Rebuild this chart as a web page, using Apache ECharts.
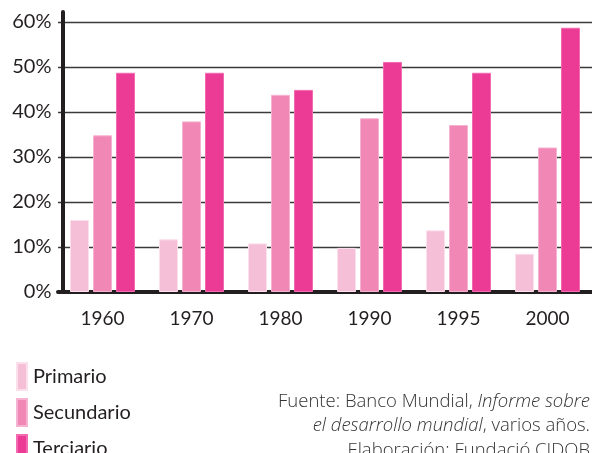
<!DOCTYPE html>
<html><head><meta charset="utf-8">
<script src="https://cdn.jsdelivr.net/npm/echarts@6/dist/echarts.min.js"></script>
<style>html,body{margin:0;padding:0;background:#fff}#c{width:592px;height:453px}</style>
</head><body><div id="c"></div>
<script>
const categories = ['1960', '1970', '1980', '1990', '1995', '2000'];
const primario   = [16, 11.7, 10.8, 9.8, 13.7, 8.5];
const secundario = [34.8, 37.9, 43.8, 38.6, 37.1, 32.1];
const terciario  = [48.7, 48.7, 44.9, 51.1, 48.7, 58.7];
const seriesNames = ['Primario', 'Secundario', 'Terciario'];
const yTicks = [0, 10, 20, 30, 40, 50, 60];

const colors = ['#f6bfd8', '#f087b5', '#ec3b94'];
const borders = ['#fbe0ec', '#f6b3d1', '#f26aaf'];
const font = 'Lato, "Open Sans", sans-serif';
const srcFont = '"Open Sans", Lato, sans-serif';

const chart = echarts.init(document.getElementById('c'), null, {renderer: 'canvas'});
const mk = (name, data, i) => ({
  name, type: 'bar', data, barWidth: 19, barGap: '21%',
  itemStyle: {color: colors[i], borderColor: borders[i], borderWidth: 1},
  emphasis: {disabled: true}, z: 2
});
chart.setOption({
  animation: false,
  grid: {left: 58, right: -10.2, top: 12, bottom: 161, containLabel: false},
  xAxis: {
    type: 'category', data: categories, boundaryGap: true, offset: 2,
    axisLine: {lineStyle: {color: '#231f20', width: 4}},
    axisTick: {show: false},
    axisLabel: {color: '#231f20', fontFamily: font, fontSize: 19, margin: 15}
  },
  yAxis: {
    type: 'value', min: 0, max: 62.2, interval: 10, offset: -4.5,
    axisLine: {show: true, lineStyle: {color: '#231f20', width: 4}},
    axisTick: {show: false},
    axisLabel: {
      color: '#231f20', fontFamily: font, fontSize: 20, margin: 11,
      formatter: v => (yTicks.indexOf(v) >= 0 ? v + '%' : '')
    },
    splitLine: {show: true, lineStyle: {color: ['#3a3a3a','#3a3a3a','#3a3a3a','#3a3a3a','#3a3a3a','#3a3a3a','#3a3a3a','rgba(0,0,0,0)'], width: 1.3}}
  },
  legend: {
    orient: 'vertical', left: 11, top: 357, height: 200, itemWidth: 10, itemHeight: 27, itemGap: 7,
    icon: 'rect', data: seriesNames,
    textStyle: {color: '#231f20', fontFamily: font, fontSize: 20, padding: [0, 0, 0, 1]},
    selectedMode: false
  },
  graphic: [{
    type: 'text', x: 590, y: 389,
    style: {
      text: 'Fuente: Banco Mundial, {i|Informe sobre}\n{i|el desarrollo mundial}, varios años.\nElaboración: Fundació CIDOB',
      align: 'right', verticalAlign: 'top', fill: '#333',
      font: '300 18.5px ' + srcFont, lineHeight: 24.5,
      rich: {i: {fontStyle: 'italic', fontWeight: 300, fontSize: 18.5, fontFamily: srcFont, fill: '#333', lineHeight: 24.5}}
    }
  }],
  series: [mk(seriesNames[0], primario, 0), mk(seriesNames[1], secundario, 1), mk(seriesNames[2], terciario, 2)]
});
</script></body></html>
